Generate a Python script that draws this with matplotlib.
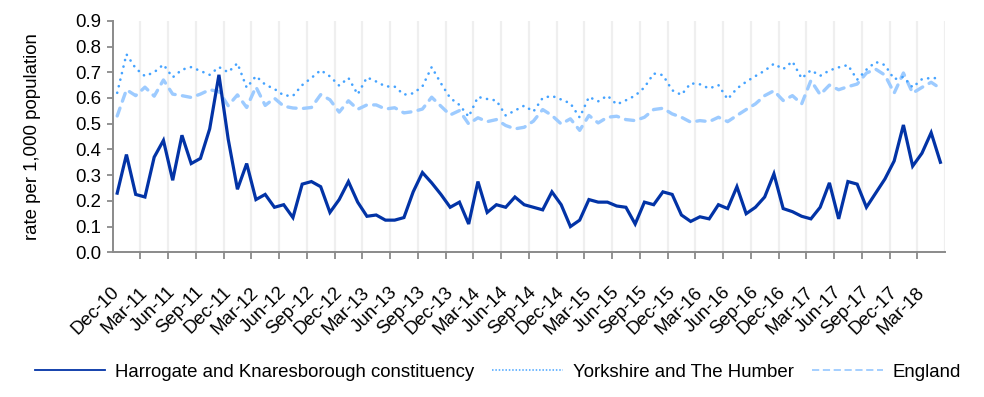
import matplotlib
matplotlib.use("Agg")
import matplotlib.pyplot as plt
from matplotlib.lines import Line2D
import numpy as np
import pandas as pd

# Monthly periods, December 2010 to May 2018
months = list(pd.date_range("2010-12-01", periods=90, freq="MS").strftime("%b-%y"))

harrogate = [
    0.23, 0.38, 0.225, 0.215, 0.37, 0.435, 0.28, 0.455, 0.345, 0.365,
    0.48, 0.69, 0.44, 0.245, 0.345, 0.205, 0.225, 0.175, 0.185, 0.135,
    0.265, 0.275, 0.255, 0.155, 0.205, 0.275, 0.195, 0.14, 0.145, 0.125,
    0.125, 0.135, 0.235, 0.31, 0.27, 0.225, 0.175, 0.195, 0.11, 0.275,
    0.155, 0.185, 0.175, 0.215, 0.185, 0.175, 0.165, 0.235, 0.185, 0.10,
    0.125, 0.205, 0.195, 0.195, 0.18, 0.175, 0.11, 0.195, 0.185, 0.235,
    0.225, 0.145, 0.12, 0.138, 0.13, 0.185, 0.17, 0.255, 0.15, 0.175,
    0.215, 0.305, 0.17, 0.158, 0.14, 0.13, 0.175, 0.27, 0.13, 0.275,
    0.265, 0.175, 0.23, 0.285, 0.355, 0.495, 0.335, 0.385, 0.465, 0.35,
]

yorkshire = [
    0.62, 0.77, 0.715, 0.685, 0.70, 0.73, 0.68, 0.71, 0.72, 0.705,
    0.69, 0.72, 0.70, 0.735, 0.64, 0.685, 0.652, 0.635, 0.61, 0.608,
    0.65, 0.678, 0.708, 0.684, 0.648, 0.678, 0.614, 0.68, 0.664, 0.645,
    0.644, 0.613, 0.618, 0.645, 0.72, 0.657, 0.60, 0.573, 0.527, 0.604,
    0.596, 0.59, 0.532, 0.551, 0.57, 0.547, 0.60, 0.608, 0.594, 0.579,
    0.524, 0.604, 0.587, 0.609, 0.575, 0.591, 0.609, 0.641, 0.695, 0.689,
    0.63, 0.612, 0.657, 0.653, 0.637, 0.65, 0.595, 0.637, 0.663, 0.685,
    0.706, 0.733, 0.712, 0.742, 0.676, 0.708, 0.686, 0.707, 0.719, 0.728,
    0.671, 0.71, 0.74, 0.728, 0.673, 0.682, 0.641, 0.673, 0.678, 0.676,
]

england = [
    0.53, 0.632, 0.609, 0.642, 0.607, 0.67, 0.615, 0.609, 0.602, 0.615,
    0.632, 0.625, 0.57, 0.612, 0.563, 0.643, 0.571, 0.599, 0.568, 0.561,
    0.559, 0.563, 0.613, 0.593, 0.545, 0.589, 0.556, 0.573, 0.573, 0.557,
    0.562, 0.542, 0.547, 0.557, 0.603, 0.568, 0.534, 0.551, 0.499, 0.523,
    0.508, 0.516, 0.493, 0.48, 0.486, 0.51, 0.555, 0.532, 0.499, 0.519,
    0.474, 0.532, 0.503, 0.525, 0.529, 0.516, 0.512, 0.525, 0.555, 0.56,
    0.538, 0.525, 0.506, 0.512, 0.508, 0.525, 0.508, 0.532, 0.555, 0.577,
    0.609, 0.628, 0.59, 0.609, 0.577, 0.668, 0.613, 0.65, 0.632, 0.644,
    0.654, 0.697, 0.712, 0.689, 0.619, 0.697, 0.619, 0.641, 0.661, 0.637,
]

series_names = [
    "Harrogate and Knaresborough constituency",
    "Yorkshire and The Humber",
    "England",
]
y_ticks = [0.0, 0.1, 0.2, 0.3, 0.4, 0.5, 0.6, 0.7, 0.8, 0.9]
y_label = "rate per 1,000 population"

plt.rcParams["font.family"] = ["Liberation Sans", "DejaVu Sans"]
FS = 13.4

c_dark = "#0233a6"
c_mid = "#45a3ff"
c_light = "#9dcbff"
c_axis = "#8a8a8a"
c_grid = "#efefef"

fig = plt.figure(figsize=(9.84, 3.97), dpi=100)
ax = fig.add_axes([0.1144, 0.3645, 0.9604 - 0.1144, 0.9476 - 0.3645])

x = np.arange(len(months))

ax.plot(x, england, color=c_light, lw=2.4, linestyle=(0, (2.5, 2.2)),
        dash_capstyle="round", solid_joinstyle="round", zorder=3)
ax.plot(x, yorkshire, color=c_mid, lw=1.9, linestyle=(0, (0.05, 2.5)),
        dash_capstyle="round", zorder=4)
ax.plot(x, harrogate, color=c_dark, lw=2.3, solid_joinstyle="miter", zorder=5)

ax.set_xlim(-0.5, len(months) - 0.5)
ax.set_ylim(0, 0.9)

# Tick marks and gridlines sit between categories, every third month
bounds = np.arange(2.5, len(months) - 3, 3)
ax.set_xticks(bounds)
ax.set_xticklabels([])
ax.tick_params(axis="x", which="major", length=5, width=1.3, color=c_axis,
               direction="out")
for b in np.arange(2.5, len(months), 3):
    ax.axvline(b, color=c_grid, lw=1.6, zorder=0)

# Category labels at every third month
lab_pos = np.arange(0, len(months), 3)
ax.set_xticks(lab_pos, minor=True)
ax.set_xticklabels([months[i] for i in lab_pos], minor=True, rotation=45,
                   ha="right", va="center", rotation_mode="anchor", fontsize=FS)
ax.tick_params(axis="x", which="minor", length=0, pad=27)

ax.set_yticks(y_ticks)
ax.set_yticklabels([f"{v:.1f}" for v in y_ticks], fontsize=FS)
ax.tick_params(axis="y", length=4, width=1.3, color=c_axis, pad=4)

for side in ("top", "right"):
    ax.spines[side].set_visible(False)
for side in ("left", "bottom"):
    ax.spines[side].set_color(c_axis)
    ax.spines[side].set_linewidth(1.4)

ax.set_ylabel(y_label, fontsize=FS)
ax.yaxis.set_label_coords(-0.086, 0.5)

handles = [
    Line2D([], [], color=c_dark, lw=1.3),
    Line2D([], [], color=c_mid, lw=1.1, linestyle=(0, (1, 1.2))),
    Line2D([], [], color=c_light, lw=1.3, linestyle=(0, (4, 2))),
]
fig.legend(handles, series_names, loc="center", bbox_to_anchor=(0.5056, 0.063),
           ncol=3, frameon=False, fontsize=FS, handlelength=3.8,
           handletextpad=0.5, columnspacing=1.0, borderpad=0, borderaxespad=0)

fig.savefig("out.png", dpi=100)
